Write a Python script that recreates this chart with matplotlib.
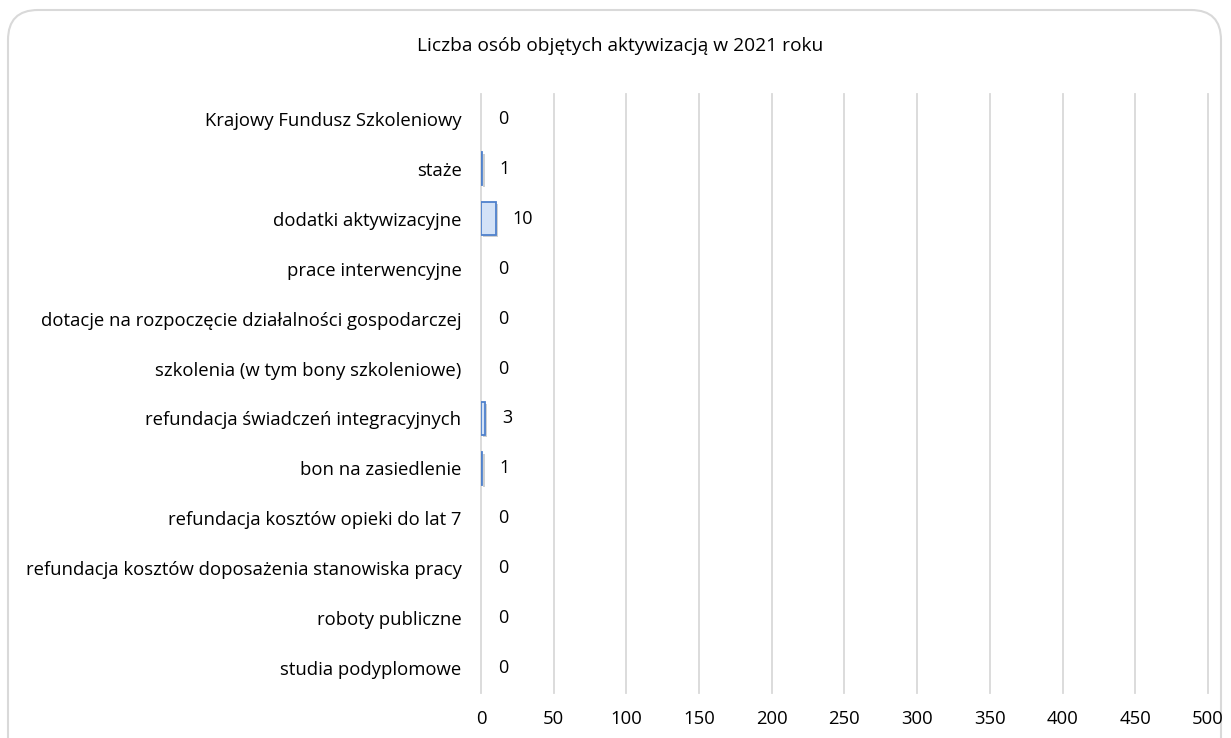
import matplotlib
matplotlib.use("Agg")
import matplotlib.pyplot as plt
from matplotlib.patches import FancyBboxPatch
import matplotlib.patheffects as pe

categories = [
    "Krajowy Fundusz Szkoleniowy",
    "staże",
    "dodatki aktywizacyjne",
    "prace interwencyjne",
    "dotacje na rozpoczęcie działalności gospodarczej",
    "szkolenia (w tym bony szkoleniowe)",
    "refundacja świadczeń integracyjnych",
    "bon na zasiedlenie",
    "refundacja kosztów opieki do lat 7",
    "refundacja kosztów doposażenia stanowiska pracy",
    "roboty publiczne",
    "studia podyplomowe",
]
values = [0, 1, 10, 0, 0, 0, 3, 1, 0, 0, 0, 0]
xticks = [0, 50, 100, 150, 200, 250, 300, 350, 400, 450, 500]
title = "Liczba osób objętych aktywizacją w 2021 roku"

plt.rcParams['font.family'] = ['Open Sans', 'DejaVu Sans']

W, H = 1231, 738
fig = plt.figure(figsize=(W / 100, H / 100), dpi=100)

# rounded outer border (pixel coordinates)
border = FancyBboxPatch((8, -30), 1213, H - 10 + 30,
                        boxstyle="round,pad=0,rounding_size=30",
                        transform=None, facecolor="none",
                        edgecolor="#d9d9d9", linewidth=1.5, zorder=-5)
fig.patches.append(border)

ax = fig.add_axes([481 / W, 1 - 693 / H, (1208 - 481) / W, (693 - 94) / H])
ax.set_facecolor("none")

ypos = list(range(len(categories)))
bars = ax.barh(ypos, values, height=0.66, color="#d3e2f7", edgecolor="#4f81cc",
               linewidth=1.3, zorder=3)
for b, v in zip(bars, values):
    if v == 0:
        b.set_visible(False)
    else:
        b.set_path_effects([pe.SimplePatchShadow(offset=(1.5, -1.5), alpha=0.25), pe.Normal()])

for y, v in zip(ypos, values):
    ax.annotate(str(v), xy=(v, y), xytext=(12.5, 0), textcoords="offset points",
                ha="left", va="center", fontsize=13, color="#000000")

ax.set_xlim(0, 500)
ax.set_ylim(len(categories) - 0.5, -0.5)
ax.set_xticks(xticks)
ax.set_xticklabels([str(t) for t in xticks])
ax.set_yticks(ypos)
ax.set_yticklabels(categories)
ax.grid(axis="x", color="#d9d9d9", linewidth=1.3, zorder=0)
ax.set_axisbelow(True)
for gl in ax.get_xgridlines():
    gl.set_clip_on(False)
for s in ax.spines.values():
    s.set_visible(False)
ax.tick_params(axis="both", length=0, labelsize=13.3, colors="#000000")
ax.tick_params(axis="x", pad=12)
ax.tick_params(axis="y", pad=14)

fig.text(620 / W, 1 - 46 / H, title, ha="center", va="center", fontsize=13.8, color="#000000")

fig.savefig("out.png", dpi=100)
